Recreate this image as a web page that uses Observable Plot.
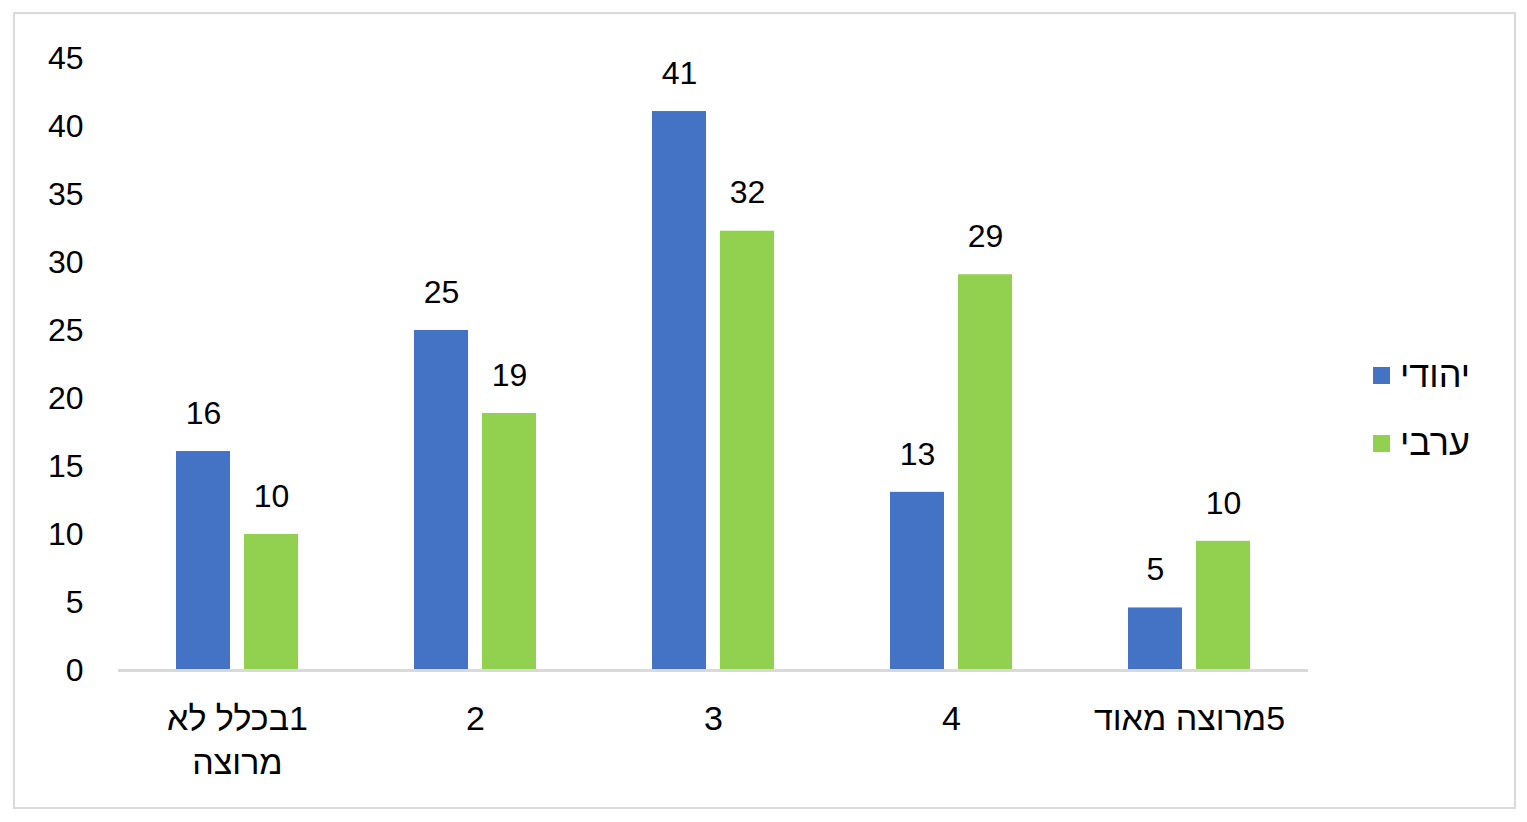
<!DOCTYPE html>
<html>
<head>
<meta charset="utf-8">
<script src="https://cdn.jsdelivr.net/npm/d3@7"></script>
<script src="https://cdn.jsdelivr.net/npm/@observablehq/plot@0.6"></script>
<style>
  html, body { margin: 0; padding: 0; background: #fff; width: 1527px; height: 822px; overflow: hidden; }
  #wrap { position: relative; width: 1527px; height: 822px; font-family: "Liberation Sans", Arial, sans-serif; }
  #frame { position: absolute; left: 13px; top: 12px; width: 1499px; height: 793px; border: 2px solid #d9d9d9; box-sizing: content-box; pointer-events: none; }
  #chart { position: absolute; left: 0; top: 0; }
  .leg { position: absolute; display: flex; align-items: center; font-size: 36px; color: #000; }
  .leg .sw { width: 17px; height: 17px; margin-right: 10px; }
</style>
</head>
<body>
<div id="wrap">
  <div id="chart"></div>
  <div id="frame"></div>
  <div id="legend"></div>
</div>
<script>
const categories = ["1בכלל לא\nמרוצה", "2", "3", "4", "5מרוצה מאוד"];
const seriesNames = ["יהודי", "ערבי"];
const jewishValues = [16.1, 25.0, 41.1, 13.1, 4.6];
const arabValues = [10.0, 18.9, 32.3, 29.1, 9.5];
const yTicks = [0, 5, 10, 15, 20, 25, 30, 35, 40, 45];
const seriesColors = ["#4472C4", "#92D050"];

const data = [];
categories.forEach((c, i) => {
  data.push({category: c, series: seriesNames[0], value: jewishValues[i]});
  data.push({category: c, series: seriesNames[1], value: arabValues[i]});
});

const font = "Liberation Sans, Arial, sans-serif";

const plot = Plot.plot({
  width: 1527,
  height: 822,
  marginLeft: 118,
  marginRight: 219,
  marginTop: 58,
  marginBottom: 152,
  style: {fontFamily: font, fontSize: "32px", color: "#000", background: "transparent"},
  fx: {domain: categories, padding: 0, label: null},
  x: {domain: seriesNames, paddingInner: 0.206, paddingOuter: 0.853, axis: null},
  y: {domain: [0, 45], ticks: yTicks, label: null},
  color: {domain: seriesNames, range: seriesColors},
  marks: [
    Plot.axisY({ticks: yTicks, tickSize: 0, tickPadding: 35, fontSize: 32, label: null, fill: "#000"}),
    Plot.axisFx({
      anchor: "bottom",
      tickSize: 0, tickPadding: 28, fontSize: 34, label: null, lineHeight: 1.3, fill: "#000",
      tickFormat: d => d.split("\n").map(l => "\u200F" + l).join("\n")
    }),
    Plot.barY(data, {fx: "category", x: "series", y: "value", fill: "series"}),
    Plot.text(data, {
      fx: "category", x: "series", y: "value",
      text: d => d3.format(".0f")(d.value),
      dy: -38, fontSize: 32, fill: "#000", lineAnchor: "middle"
    }),
    Plot.ruleY([0], {stroke: "#d9d9d9", strokeWidth: 3})
  ]
});
document.getElementById("chart").appendChild(plot);

const legend = document.getElementById("legend");
const legendTops = [357, 425];
seriesNames.forEach((name, i) => {
  const row = document.createElement("div");
  row.className = "leg";
  row.style.left = "1373px";
  row.style.top = legendTops[i] + "px";
  row.style.height = "36px";
  const sw = document.createElement("span");
  sw.className = "sw";
  sw.style.background = seriesColors[i];
  const tx = document.createElement("span");
  tx.textContent = name;
  row.appendChild(sw);
  row.appendChild(tx);
  legend.appendChild(row);
});
</script>
</body>
</html>
